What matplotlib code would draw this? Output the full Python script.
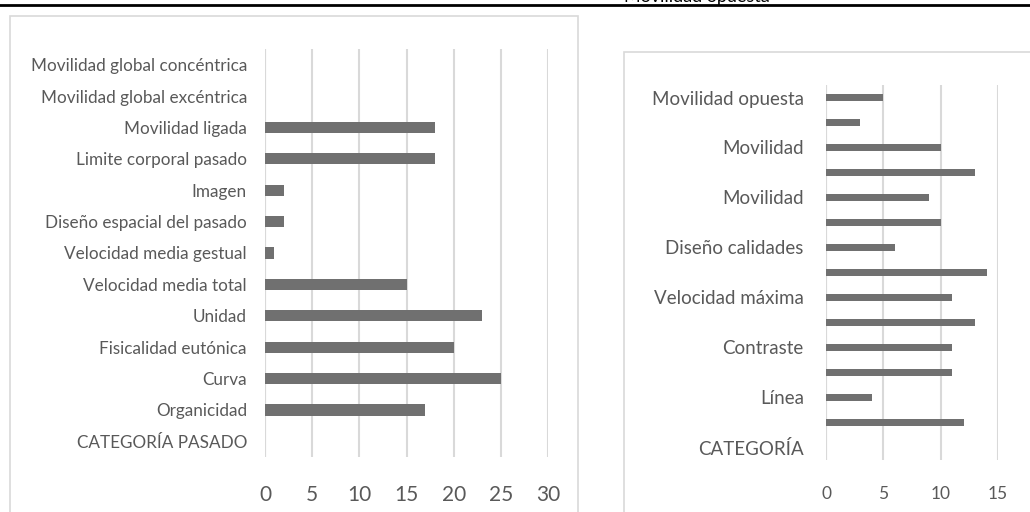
import matplotlib
matplotlib.use("Agg")
import matplotlib.pyplot as plt
from matplotlib.patches import Rectangle

plt.rcParams['font.family'] = ['Lato', 'DejaVu Sans']

# Left chart: pasado (bottom to top)
cat_pasado = ["CATEGORÍA PASADO", "Organicidad", "Curva", "Fisicalidad eutónica",
              "Unidad", "Velocidad media total", "Velocidad media gestual",
              "Diseño espacial del pasado", "Imagen", "Limite corporal pasado",
              "Movilidad ligada", "Movilidad global excéntrica", "Movilidad global concéntrica"]
val_pasado = [0, 17, 25, 20, 23, 15, 1, 2, 2, 18, 18, 0, 0]
ticks_pasado = [0, 5, 10, 15, 20, 25, 30]

# Right chart (bottom to top); only every second label is shown
cat_derecha = ["CATEGORÍA", "", "Línea", "", "Contraste", "", "Velocidad máxima", "",
               "Diseño calidades", "", "Movilidad", "", "Movilidad", "", "Movilidad opuesta"]
val_derecha = [0, 12, 4, 11, 11, 13, 11, 14, 6, 10, 9, 13, 10, 3, 5]
ticks_derecha = [0, 5, 10, 15]

W, H = 1030, 512
fig = plt.figure(figsize=(W / 100, H / 100), dpi=100)

def px_axes(x0, y0, x1, y1):
    return fig.add_axes([x0 / W, 1 - y1 / H, (x1 - x0) / W, (y1 - y0) / H])

bar_col = "#707070"
grid_col = "#d9d9d9"
txt_col = "#595959"

# frames of the two chart objects
fig.patches.append(Rectangle((10 / W, -0.1), 568 / W, 1.1 - 16 / H, transform=fig.transFigure,
                             fill=False, edgecolor=grid_col, linewidth=1.2))
fig.patches.append(Rectangle((624 / W, -0.1), 1, 1.1 - 52 / H, transform=fig.transFigure,
                             fill=False, edgecolor=grid_col, linewidth=1.2))
# page line and the cut text above it
fig.add_artist(plt.Line2D([0, 1], [1 - 5 / H, 1 - 5 / H], transform=fig.transFigure,
                          color="black", linewidth=2))
fig.text(770 / W, 1 - 2 / H, "Movilidad opuesta", ha="right", va="baseline",
         fontsize=13, color="black")


def draw(ax, cats, vals, ticks, height, ysize, xsize, pad, xpad):
    y = list(range(len(cats)))
    ax.barh(y, vals, height=height, color=bar_col, zorder=3)
    ax.set_xlim(ticks[0], ticks[-1])
    ax.set_ylim(-0.5, len(cats) - 0.5)
    ax.set_xticks(ticks)
    ax.set_yticks(y)
    ax.set_yticklabels(cats)
    ax.grid(axis="x", color=grid_col, linewidth=1.5, zorder=0)
    for s in ax.spines.values():
        s.set_visible(False)
    ax.axvline(0, color=grid_col, linewidth=1.5, zorder=1)
    ax.tick_params(axis="both", length=0, colors=txt_col)
    ax.tick_params(axis="y", labelsize=ysize, pad=pad)
    ax.tick_params(axis="x", labelsize=xsize, pad=xpad)
    ax.patch.set_alpha(0)


ax1 = px_axes(265, 49, 548, 457)
draw(ax1, cat_pasado, val_pasado, ticks_pasado, 0.36, 12.3, 15, 13, 20)

ax2 = px_axes(826, 85, 998, 460)
draw(ax2, cat_derecha, val_derecha, ticks_derecha, 0.3, 13.5, 12.5, 16, 19)

fig.savefig("out.png", dpi=100)
